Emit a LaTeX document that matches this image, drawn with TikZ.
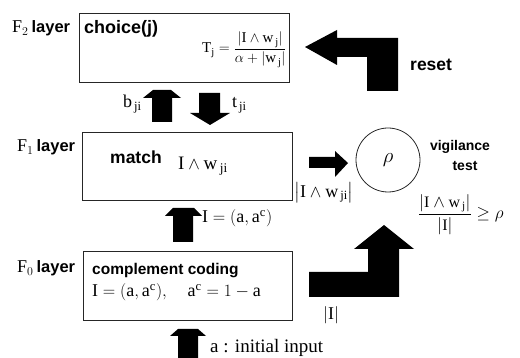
\documentclass[tikz,border=0pt]{standalone}
\usepackage{amsmath}
\usepackage{fontspec}
\setmainfont{Liberation Serif}
\setsansfont{Liberation Sans}
\newcommand{\laytxt}{{\fontsize{16.5}{19}\selectfont\sffamily\bfseries layer}}
\begin{document}
\begin{tikzpicture}[x=1pt,y=-1pt,
  box/.style={draw=black!85, line width=1pt, anchor=north west, inner sep=0pt},
  lab/.style={font=\fontsize{17}{20}\selectfont\sffamily\bfseries, inner sep=0pt, anchor=base west},
  ser/.style={font=\fontsize{18}{21}\selectfont, inner sep=0pt, anchor=base west},
  blk/.style={fill=black, draw=none}]
\useasboundingbox (0,0) rectangle (520,358);

% layer boxes
\node[box, minimum width=210pt, minimum height=69pt] (f2) at (79,13) {};
\node[box, minimum width=210pt, minimum height=68pt] (f1) at (82,132) {};
\node[box, minimum width=209pt, minimum height=69pt] (f0) at (83,251) {};
\node[draw=black!85, line width=0.8pt, circle, minimum size=64pt, inner sep=0pt] (rho) at (388,160) {\fontsize{22}{24}\selectfont$\rho$};

% layer names
\node[ser] (n2) at (12,33) {F$_2$\,\laytxt};
\node[ser] (n1) at (17,152) {F$_1$\,\laytxt};
\node[ser] (n0) at (17,273) {F$_0$\,\laytxt};

% box contents
\node[lab, font=\fontsize{18}{20}\selectfont\sffamily\bfseries] (choice) at (84,34) {choice(j)};
\node[ser, font=\fontsize{15}{18}\selectfont] (tj) at (202,53)
  {$\mathrm{T}_{\mathrm{j}} = \dfrac{\left|\mathrm{I}\wedge\mathrm{w}_{\,\mathrm{j}}\right|}{\alpha+\left|\mathrm{w}_{\,\mathrm{j}}\right|}$};
\node[lab, font=\fontsize{17.5}{20}\selectfont\sffamily\bfseries] (match) at (110,164) {match};
\node[ser, font=\fontsize{19}{22}\selectfont] (iw) at (178,170) {$\mathrm{I}\wedge\mathrm{w}_{\,\mathrm{ji}}$};
\node[lab, font=\fontsize{15.5}{18}\selectfont\sffamily\bfseries] (cc) at (92,275) {complement coding};
\node[ser] (ia) at (92,297) {$\mathrm{I}=(\mathrm{a},\mathrm{a}^{\mathrm{c}}),\quad \mathrm{a}^{\mathrm{c}}=1-\mathrm{a}$};

% labels outside
\node[ser] (bji) at (123,108) {$\mathrm{b}_{\,\mathrm{ji}}$};
\node[ser] (tji) at (232,108) {$\mathrm{t}_{\,\mathrm{ji}}$};
\node[ser] (iac) at (202,223) {$\mathrm{I}=(\mathrm{a},\mathrm{a}^{\mathrm{c}})$};
\node[ser, font=\fontsize{19}{22}\selectfont] (ain) at (210,353) {a : initial input};
\node[lab, font=\fontsize{17.5}{20}\selectfont\sffamily\bfseries] (reset) at (410,71) {reset};
\node[lab, font=\fontsize{14}{16}\selectfont\sffamily\bfseries, anchor=base] (vig) at (460,151) {vigilance};
\node[lab, font=\fontsize{14}{16}\selectfont\sffamily\bfseries, anchor=base] (test) at (465,171) {test};
\node[ser, anchor=center] (iwa) at (324,193) {$\left|\mathrm{I}\wedge\mathrm{w}_{\,\mathrm{ji}}\right|$};
\node[ser, font=\fontsize{16}{19}\selectfont] (vf) at (418,219)
  {$\dfrac{\left|\mathrm{I}\wedge\mathrm{w}_{\,\mathrm{j}}\right|}{|\mathrm{I}|}\geq\rho$};
\node[ser, anchor=center] (ii) at (331,315) {$|\mathrm{I}|$};

% block arrows
\fill[blk] (152,122) -- (152,98) -- (143,98) -- (153,90) -- (171,90) -- (181,98) -- (172,98) -- (172,122) -- cycle;
\fill[blk] (199,93) -- (220,93) -- (220,113) -- (230,113) -- (210,125) -- (190,113) -- (199,113) -- cycle;
\fill[blk] (173,242) -- (173,216) -- (165,216) -- (173,208) -- (194,208) -- (202,216) -- (193,216) -- (193,242) -- cycle;
\fill[blk] (178,358) -- (178,336) -- (170,336) -- (178,329) -- (198,329) -- (206,336) -- (198,336) -- (198,358) -- cycle;
\fill[blk] (309,157) -- (335,157) -- (335,151) -- (348,163) -- (335,177) -- (335,168) -- (309,168) -- cycle;
\fill[blk] (305,47) -- (337,30) -- (337,38) -- (398,38) -- (398,91) -- (367,91) -- (367,57) -- (337,57) -- (337,65) -- cycle;
\fill[blk] (309,272) -- (368,272) -- (368,249) -- (354,249) -- (384,225) -- (414,249) -- (399,249) -- (399,297) -- (309,297) -- cycle;
\end{tikzpicture}
\end{document}
